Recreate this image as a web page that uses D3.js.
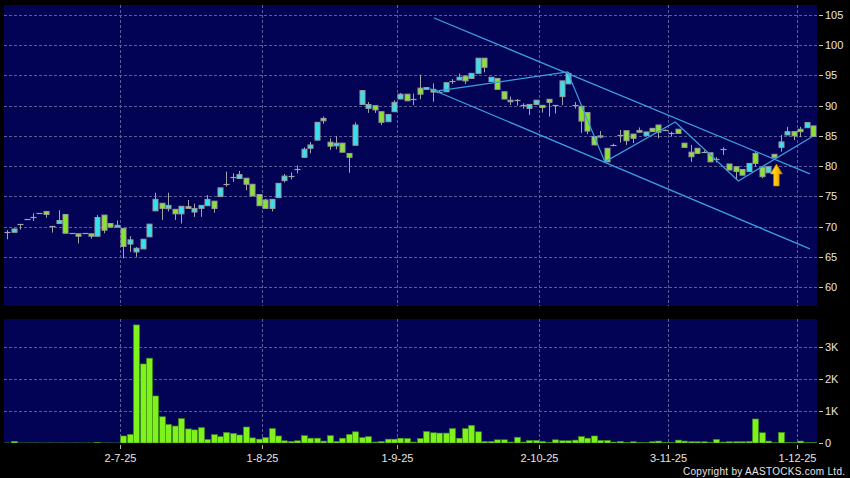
<!DOCTYPE html>
<html><head><meta charset="utf-8">
<script src="https://cdn.jsdelivr.net/npm/d3@7"></script>
<style>html,body{margin:0;padding:0;background:#000;}svg{display:block;}</style>
</head><body>
<svg id="chart" width="850" height="478"></svg>
<script>
// ---------- data ----------
const opens  = [69.05,69.05,70.4,71.25,71.6,72.2,72.5,70.1,70.5,72.0,68.9,68.8,68.9,68.8,68.4,71.9,70.5,69.9,69.7,67.1,65.8,66.3,68.3,72.6,73.85,72.95,72.85,72.1,73.3,72.4,73.0,73.45,74.2,74.95,77.1,78.15,77.95,78.0,77.0,75.3,74.4,73.0,74.8,77.6,78.4,79.55,81.45,82.95,84.3,87.9,83.95,83.35,83.8,82.1,83.45,90.2,89.55,90.0,89.0,87.35,89.0,91.1,91.9,91.1,92.9,92.7,92.7,92.3,92.3,94.1,94.25,94.9,94.5,95.35,97.85,94.0,94.5,92.3,90.65,90.9,90.1,89.55,90.2,90.05,91.05,90.1,91.5,93.6,90.1,89.9,88.85,84.9,84.8,82.95,83.5,85.15,85.85,85.3,85.6,85.05,86.25,86.8,85.9,85.55,86.1,83.8,82.3,82.95,82.4,82.2,81.1,82.8,80.35,79.9,79.45,79.1,82.1,79.8,78.9,81.95,83.1,85.15,85.7,86.1,86.35,86.65];
const highs  = [69.4,69.7,70.4,71.25,72.2,72.2,72.5,70.1,72.7,72.0,68.9,68.8,68.9,68.8,71.9,71.9,70.5,71.0,69.7,68.4,66.6,67.9,70.4,75.6,73.85,75.6,72.85,73.35,74.4,73.8,73.5,75.2,74.2,76.4,79.1,78.8,79.2,78.0,77.0,75.3,74.6,74.5,77.15,78.7,78.95,80.1,83.1,84.0,87.25,88.2,84.6,85.0,83.8,82.1,87.25,92.5,90.6,90.0,89.0,88.55,90.9,92.1,91.9,92.0,95.1,93.0,93.7,92.5,93.8,94.4,95.3,94.9,95.35,97.85,97.85,94.7,94.5,92.3,91.5,91.1,90.4,90.2,90.9,90.05,91.05,90.1,94.1,95.6,90.6,89.9,88.85,84.9,85.8,82.95,83.7,86.0,85.85,85.3,86.4,85.7,86.25,86.8,86.1,85.7,86.1,83.8,83.5,82.95,82.6,82.2,81.5,83.1,80.35,79.9,79.45,80.45,82.4,79.8,79.9,81.95,85.15,86.5,85.7,86.5,87.2,86.65];
const lows   = [67.9,69.0,69.5,71.25,70.9,72.2,71.45,69.0,70.5,68.9,68.9,67.2,68.9,68.0,68.4,68.9,69.9,69.9,64.75,65.8,65.0,66.3,68.3,72.6,71.1,72.5,71.1,70.5,73.0,71.6,71.6,73.45,72.3,74.95,76.6,77.4,77.95,76.0,75.05,73.45,73.0,72.5,74.8,77.3,77.8,78.8,81.45,82.1,84.3,87.0,82.7,82.8,82.3,78.9,83.45,90.2,88.8,88.8,86.8,87.35,89.0,91.1,90.8,90.1,91.05,92.7,90.65,92.1,92.3,93.6,94.25,93.6,94.5,95.35,95.5,94.0,92.7,91.1,90.1,90.0,89.5,88.45,90.2,88.85,88.2,88.7,90.1,93.6,89.5,85.5,85.3,83.5,84.6,80.7,83.3,83.9,83.5,83.8,85.6,85.05,85.7,84.6,85.8,84.9,85.4,83.1,80.7,82.1,82.2,80.7,80.6,81.85,79.35,77.7,78.5,79.1,79.9,78.0,78.9,81.45,82.4,85.15,84.3,84.8,86.35,84.9];
const closes = [69.05,69.6,70.4,71.25,71.6,72.2,72.0,70.1,71.0,68.9,68.9,68.4,68.9,68.4,71.5,69.4,69.9,70.2,66.7,67.8,66.4,67.9,70.4,74.5,73.0,73.5,72.1,73.35,73.0,73.0,73.5,74.5,73.0,76.4,77.1,78.15,78.6,77.0,75.05,73.45,73.0,74.5,77.15,78.35,78.4,79.55,82.8,83.5,87.25,87.5,83.3,83.8,82.3,81.45,86.8,92.5,90.2,89.3,87.25,88.55,90.55,91.9,90.8,91.1,91.9,93.0,92.25,92.3,93.8,94.1,94.7,94.1,95.35,97.85,96.35,94.7,92.7,91.1,90.9,90.9,90.1,90.2,90.9,89.7,90.55,90.1,94.1,95.35,90.1,87.45,85.8,83.5,85.0,80.7,83.5,85.15,84.2,84.6,85.9,85.65,85.7,85.6,85.9,85.55,85.4,83.1,81.55,82.1,82.4,80.7,81.1,82.8,79.35,79.1,78.5,80.45,80.45,78.25,79.9,81.45,84.0,85.7,85.0,85.7,87.2,84.9];
const volumes = [0,50,0,0,0,0,0,0,0,0,0,0,0,0,20,0,0,0,220,270,3690,2470,2650,1470,820,580,530,760,440,410,480,110,260,200,330,300,250,500,160,120,170,450,220,70,50,70,230,150,150,60,230,50,150,270,350,170,200,30,50,120,120,150,140,30,140,360,320,310,310,450,150,450,550,350,50,50,100,100,30,180,30,80,80,50,20,100,70,70,90,200,150,220,80,80,30,50,20,40,20,10,40,60,20,10,90,60,40,40,40,20,110,30,40,40,40,50,750,320,60,10,330,20,10,60,10,10];

const priceTicks = [60,65,70,75,80,85,90,95,100,105];
const volumeTicks = [0,1000,2000,3000];
const dateTickIndex = [18,40,61,83,103,123];
const dateTickLabels = ["2-7-25","1-8-25","1-9-25","2-10-25","3-11-25","1-12-25"];

// trend lines: [bar index, price]
const channelUpper = [[66.2,104.5],[124.5,78.7]];
const channelLower = [[65.6,92.8],[124.5,66.3]];
const zigzag = [[66.5,92.4],[86.9,95.6],[92.7,80.7],[103.6,87.3],[113.4,77.55],[124.9,84.9]];
const arrowMark = [119.3,80.35];

// ---------- drawing ----------
const svg = d3.select("#chart");
const W = 850, H = 478;
const panelL = 4, panelR = 817;
const top1 = 5, bot1 = 306, top2 = 319, bot2 = 443;
const navy = "#030355", grid = "#5c5c96";
const cyan = "#36e0ee", green = "#8ae330", wickC = "#a4a4a4";
const textC = "#e6e6e6", font = "'Liberation Sans', Arial, sans-serif";

const n = opens.length;
const x = d3.scaleLinear().domain([0, 125]).range([7.17, 7.17 + 125 * 6.448]);
const step = 6.448;
const y = d3.scaleLinear().domain([60, 105]).range([287, 15]);
const yv = d3.scaleLinear().domain([0, 3000]).range([443, 347]);

svg.append("rect").attr("width", W).attr("height", H).attr("fill", "#000");
svg.append("rect").attr("x", panelL).attr("y", top1).attr("width", panelR - panelL).attr("height", bot1 - top1).attr("fill", navy);
svg.append("rect").attr("x", panelL).attr("y", top2).attr("width", panelR - panelL).attr("height", bot2 - top2).attr("fill", navy);

const defs = svg.append("defs");
defs.append("clipPath").attr("id", "c1").append("rect").attr("x", panelL).attr("y", top1).attr("width", panelR - panelL).attr("height", bot1 - top1);
defs.append("clipPath").attr("id", "c2").append("rect").attr("x", panelL).attr("y", top2).attr("width", panelR - panelL).attr("height", bot2 - top2);
const gradA = defs.append("linearGradient").attr("id", "arrowGrad").attr("x1", "0").attr("x2", "1").attr("y1", "0").attr("y2", "0");
gradA.append("stop").attr("offset", "0").attr("stop-color", "#ffe45a");
gradA.append("stop").attr("offset", "0.5").attr("stop-color", "#ffc400");
gradA.append("stop").attr("offset", "1").attr("stop-color", "#d98e00");

// gridlines
const gGrid = svg.append("g").attr("stroke", grid).attr("stroke-width", 1).attr("stroke-dasharray", "3,2").attr("fill", "none");
priceTicks.forEach(p => {
  const yy = Math.round(y(p)) + 0.5;
  gGrid.append("line").attr("x1", panelL).attr("x2", panelR).attr("y1", yy).attr("y2", yy);
});
volumeTicks.slice(1).forEach(v => {
  const yy = Math.round(yv(v)) + 0.5;
  gGrid.append("line").attr("x1", panelL).attr("x2", panelR).attr("y1", yy).attr("y2", yy);
});
dateTickIndex.forEach(i => {
  const xx = Math.round(x(i) - step / 2) + 0.5;
  gGrid.append("line").attr("x1", xx).attr("x2", xx).attr("y1", top1).attr("y2", bot1);
  gGrid.append("line").attr("x1", xx).attr("x2", xx).attr("y1", top2).attr("y2", bot2);
});

// candles
const gC = svg.append("g").attr("clip-path", "url(#c1)");
for (let i = 0; i < n; i++) {
  const cx = Math.round(x(i)) + 0.5;
  const o = opens[i], c = closes[i], h = highs[i], l = lows[i];
  gC.append("line").attr("x1", cx).attr("x2", cx).attr("y1", y(h)).attr("y2", y(l)).attr("stroke", wickC).attr("stroke-width", 1);
  const topY = y(Math.max(o, c)), botY = y(Math.min(o, c));
  if (botY - topY < 1.2) {
    gC.append("line").attr("x1", cx - 3).attr("x2", cx + 3).attr("y1", Math.round(topY) + 0.5).attr("y2", Math.round(topY) + 0.5)
      .attr("stroke", wickC).attr("stroke-width", 1.2);
  } else {
    gC.append("rect").attr("x", cx - 2.5).attr("y", topY).attr("width", 5).attr("height", botY - topY)
      .attr("fill", c > o ? cyan : green).attr("stroke", "#9c9c9c").attr("stroke-width", 1);
  }
}

// trend lines
const line = d3.line().x(d => x(d[0])).y(d => y(d[1]));
const gL = svg.append("g").attr("clip-path", "url(#c1)").attr("fill", "none").attr("stroke", "#3c9fe0");
gL.append("path").attr("d", line(channelUpper)).attr("stroke-width", 1.3);
gL.append("path").attr("d", line(channelLower)).attr("stroke-width", 1.3);
gL.append("path").attr("d", line(zigzag)).attr("stroke-width", 1.2);

// arrow
{
  const ax = x(arrowMark[0]), ay = y(arrowMark[1]);
  const pts = [[0,0],[6,10],[2.8,10],[2.8,22],[-2.8,22],[-2.8,10],[-6,10]];
  svg.append("path").attr("d", "M" + pts.map(p => [ax + p[0], ay + p[1]].join(",")).join("L") + "Z")
    .attr("fill", "url(#arrowGrad)").attr("stroke", "#b37800").attr("stroke-width", 0.6);
}

// volume bars
const gV = svg.append("g").attr("clip-path", "url(#c2)");
for (let i = 0; i < n; i++) {
  const cx = Math.round(x(i));
  const yt = yv(volumes[i]);
  gV.append("rect").attr("x", cx - 2.5).attr("y", yt).attr("width", 6).attr("height", Math.max(0.6, yv(0) - yt))
    .attr("fill", "#7df21c").attr("stroke", "#3f8f12").attr("stroke-width", volumes[i] > 0 ? 0.6 : 0.8);
}

// right axis labels
const gA = svg.append("g").attr("font-family", font).attr("font-size", 11).attr("fill", textC);
priceTicks.forEach(p => {
  const yy = y(p);
  svg.append("line").attr("x1", 819).attr("x2", 823).attr("y1", Math.round(yy) + 0.5).attr("y2", Math.round(yy) + 0.5).attr("stroke", "#c8c8c8");
  gA.append("text").attr("x", 825).attr("y", yy + 4).text(p);
});
const kFmt = v => v === 0 ? "0" : (v / 1000) + "K";
volumeTicks.forEach(v => {
  const yy = yv(v);
  svg.append("line").attr("x1", 819).attr("x2", 823).attr("y1", Math.round(yy) + 0.5).attr("y2", Math.round(yy) + 0.5).attr("stroke", "#c8c8c8");
  gA.append("text").attr("x", 825).attr("y", yy + 4).text(kFmt(v));
});

// date axis
dateTickIndex.forEach((i, k) => {
  const xx = Math.round(x(i) - step / 2) + 0.5;
  svg.append("line").attr("x1", xx).attr("x2", xx).attr("y1", 445).attr("y2", 449).attr("stroke", "#b4b4b4");
  gA.append("text").attr("x", xx).attr("y", 461.5).attr("text-anchor", "middle").text(dateTickLabels[k]);
});

// copyright
svg.append("text").attr("x", 683).attr("y", 474.5).attr("font-family", font).attr("font-size", 10)
  .attr("fill", textC).attr("textLength", 162).attr("lengthAdjust", "spacing")
  .text("Copyright by AASTOCKS.com Ltd.");
</script>
</body></html>
